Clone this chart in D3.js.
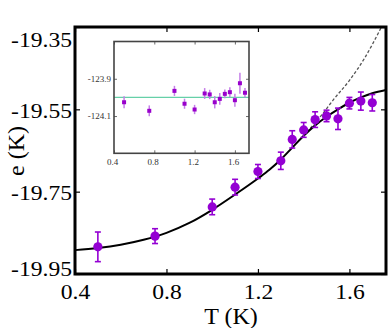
<!DOCTYPE html>
<html>
<head>
<meta charset="utf-8">
<script src="https://cdn.jsdelivr.net/npm/d3@7"></script>
<style>
  body { margin: 0; background: #fff; }
  text { font-family: "Liberation Serif", "Times New Roman", serif; }
</style>
</head>
<body>
<script>
// main panel data
var mainT   = [0.5, 0.75, 1.0, 1.1, 1.2, 1.3, 1.35, 1.4, 1.45, 1.5, 1.55, 1.6, 1.65, 1.7];
var mainE   = [-19.884, -19.858, -19.787, -19.739, -19.701, -19.675, -19.623, -19.600, -19.575, -19.566, -19.573, -19.535, -19.530, -19.534];
var mainErr = [0.036, 0.018, 0.019, 0.019, 0.017, 0.021, 0.021, 0.018, 0.019, 0.014, 0.026, 0.014, 0.022, 0.020];

// solid fit curve
var fitT = [0.4, 0.5, 0.6, 0.7, 0.8, 0.9, 1.0, 1.1, 1.2, 1.25, 1.3, 1.35, 1.4, 1.45, 1.5, 1.55, 1.6, 1.65, 1.7, 1.76];
var fitE = [-19.892, -19.887, -19.879, -19.867, -19.850, -19.826, -19.794, -19.757, -19.718, -19.697, -19.672, -19.643, -19.614, -19.589, -19.568, -19.550, -19.534, -19.521, -19.511, -19.503];

// dashed curve
var dashT = [1.40, 1.434, 1.48, 1.528, 1.601, 1.666, 1.74];
var dashE = [-19.614, -19.593, -19.563, -19.528, -19.479, -19.426, -19.35];

var xTicks = [0.4, 0.8, 1.2, 1.6];
var yTicks = [-19.95, -19.75, -19.55, -19.35];

// inset data
var insetT   = [0.5, 0.75, 1.0, 1.1, 1.2, 1.3, 1.35, 1.4, 1.45, 1.5, 1.55, 1.6, 1.65, 1.7];
var insetE   = [-124.026, -124.072, -123.965, -124.034, -124.065, -123.979, -123.984, -124.026, -124.008, -123.981, -123.972, -124.015, -123.924, -123.975];
var insetErr = [0.032, 0.029, 0.027, 0.027, 0.025, 0.029, 0.025, 0.033, 0.031, 0.023, 0.027, 0.035, 0.056, 0.025];
var insetRef = -124.0;
var insetYTicks = [-124.1, -123.9];

var width = 390, height = 328;
var plot = {left: 75, right: 386, top: 27, bottom: 274};

var svg = d3.select("body").append("svg")
            .attr("width", width)
            .attr("height", height);

var x = d3.scaleLinear().domain([0.4, 1.76]).range([plot.left, plot.right]);
var y = d3.scaleLinear().domain([-19.95, -19.35]).range([plot.bottom, plot.top]);

var purple = "#9400d3";

// axes, ticks pointing inward
function styleAxis(g) {
  g.select(".domain").remove();
  g.selectAll(".tick line").attr("stroke", "#000").attr("stroke-width", 1.2);
}

svg.append("g")
   .attr("transform", "translate(0," + plot.bottom + ")")
   .call(d3.axisBottom(x).tickValues(xTicks).tickSize(-5).tickPadding(10).tickFormat(d3.format(".1f")))
   .call(styleAxis)
   .selectAll("text")
   .attr("class", "tl")
   .attr("font-size", 20)
   .attr("fill", "#000")
   .attr("dy", "0.75em");

svg.append("g")
   .attr("transform", "translate(0," + plot.top + ")")
   .call(d3.axisTop(x).tickValues(xTicks).tickSize(-5).tickFormat(""))
   .call(styleAxis);

var yAxis = svg.append("g")
   .attr("transform", "translate(" + plot.left + ",0)")
   .call(d3.axisLeft(y).tickValues(yTicks).tickSize(-5).tickPadding(4).tickFormat(d3.format(".2f")))
   .call(styleAxis);

yAxis.selectAll("text")
   .attr("class", "tl")
   .attr("font-size", 20)
   .attr("fill", "#000")
   .attr("x", -3)
   .attr("dy", function(d) {
     if (d === -19.35) return "0.95em";
     if (d === -19.95) return "0.05em";
     return "0.4em";
   })
   .text(function(d) { return d3.format(".2f")(d).replace("−", "-"); });

svg.append("g")
   .attr("transform", "translate(" + plot.right + ",0)")
   .call(d3.axisRight(y).tickValues(yTicks).tickSize(-5).tickFormat(""))
   .call(styleAxis);

// fit curves
var line = d3.line()
             .x(function(d) { return x(d[0]); })
             .y(function(d) { return y(d[1]); })
             .curve(d3.curveMonotoneX);

svg.append("path")
   .datum(dashT.map(function(t, i) { return [t, dashE[i]]; }))
   .attr("d", line)
   .attr("fill", "none")
   .attr("stroke", "#555")
   .attr("stroke-width", 1.3)
   .attr("stroke-dasharray", "3,2");

svg.append("path")
   .datum(fitT.map(function(t, i) { return [t, fitE[i]]; }))
   .attr("d", line)
   .attr("fill", "none")
   .attr("stroke", "#000")
   .attr("stroke-width", 2);

// main data with error bars
var pts = svg.append("g").attr("class", "points")
             .selectAll("g")
             .data(mainT)
             .enter()
             .append("g");

pts.append("line")
   .attr("x1", function(d) { return x(d); })
   .attr("x2", function(d) { return x(d); })
   .attr("y1", function(d, i) { return y(mainE[i] - mainErr[i]); })
   .attr("y2", function(d, i) { return y(mainE[i] + mainErr[i]); })
   .attr("stroke", purple)
   .attr("stroke-width", 1.6);

[-1, 1].forEach(function(s) {
  pts.append("line")
     .attr("x1", function(d) { return x(d) - 3; })
     .attr("x2", function(d) { return x(d) + 3; })
     .attr("y1", function(d, i) { return y(mainE[i] + s * mainErr[i]); })
     .attr("y2", function(d, i) { return y(mainE[i] + s * mainErr[i]); })
     .attr("stroke", purple)
     .attr("stroke-width", 1.6);
});

pts.append("circle")
   .attr("cx", function(d) { return x(d); })
   .attr("cy", function(d, i) { return y(mainE[i]); })
   .attr("r", 4.6)
   .attr("fill", purple);

// frame
svg.append("rect")
   .attr("x", plot.left)
   .attr("y", plot.top)
   .attr("width", plot.right - plot.left)
   .attr("height", plot.bottom - plot.top)
   .attr("fill", "none")
   .attr("stroke", "#000")
   .attr("stroke-width", 3);

// axis titles
svg.append("text")
   .attr("x", 231)
   .attr("y", 324)
   .attr("text-anchor", "middle")
   .attr("font-size", 24)
   .text("T (K)");

svg.append("text")
   .attr("transform", "translate(24,151) rotate(-90)")
   .attr("text-anchor", "middle")
   .attr("font-size", 24)
   .text("e (K)");

// inset
var ins = {left: 114, right: 249, top: 41.5, bottom: 153.3};
var ix = d3.scaleLinear().domain([0.4, 1.74]).range([ins.left, ins.right]);
var iy = d3.scaleLinear().domain([-124.3, -123.7]).range([ins.bottom, ins.top]);

var inset = svg.append("g").attr("class", "inset");

inset.append("rect")
     .attr("x", ins.left)
     .attr("y", ins.top)
     .attr("width", ins.right - ins.left)
     .attr("height", ins.bottom - ins.top)
     .attr("fill", "#fff");

function styleInset(g) {
  g.select(".domain").remove();
  g.selectAll(".tick line").attr("stroke", "#444").attr("stroke-width", 0.8);
  g.selectAll("text").attr("font-size", 9).attr("fill", "#333");
}

inset.append("g")
     .attr("transform", "translate(0," + ins.bottom + ")")
     .call(d3.axisBottom(ix).tickValues(xTicks).tickSize(-3).tickPadding(5).tickFormat(d3.format(".1f")))
     .call(styleInset)
     .selectAll("text").attr("dx", "-0.2em");

inset.append("g")
     .attr("transform", "translate(0," + ins.top + ")")
     .call(d3.axisTop(ix).tickValues(xTicks).tickSize(-3).tickFormat(""))
     .call(styleInset);

inset.append("g")
     .attr("transform", "translate(" + ins.left + ",0)")
     .call(d3.axisLeft(iy).tickValues(insetYTicks).tickSize(-3).tickPadding(3)
              .tickFormat(function(d) { return d3.format(".1f")(d).replace("−", "-"); }))
     .call(styleInset);

inset.append("g")
     .attr("transform", "translate(" + ins.right + ",0)")
     .call(d3.axisRight(iy).tickValues(insetYTicks).tickSize(-3).tickFormat(""))
     .call(styleInset);

inset.append("line")
     .attr("x1", ins.left)
     .attr("x2", ins.right)
     .attr("y1", iy(insetRef))
     .attr("y2", iy(insetRef))
     .attr("stroke", "#66d0a8")
     .attr("stroke-width", 1.3);

var ipts = inset.append("g").selectAll("g")
                .data(insetT)
                .enter()
                .append("g");

ipts.append("line")
    .attr("x1", function(d) { return ix(d); })
    .attr("x2", function(d) { return ix(d); })
    .attr("y1", function(d, i) { return iy(insetE[i] - insetErr[i]); })
    .attr("y2", function(d, i) { return iy(insetE[i] + insetErr[i]); })
    .attr("stroke", "#c57ee8")
    .attr("stroke-width", 1.5);

ipts.append("rect")
    .attr("x", function(d) { return ix(d) - 2; })
    .attr("y", function(d, i) { return iy(insetE[i]) - 2; })
    .attr("width", 4)
    .attr("height", 4)
    .attr("fill", "#9900cc");

inset.append("rect")
     .attr("x", ins.left)
     .attr("y", ins.top)
     .attr("width", ins.right - ins.left)
     .attr("height", ins.bottom - ins.top)
     .attr("fill", "none")
     .attr("stroke", "#444")
     .attr("stroke-width", 1.6);

// the original tick labels are a bit wider than Times
svg.selectAll("text.tl").each(function() {
  var len = this.getComputedTextLength();
  d3.select(this).attr("textLength", len * 1.18).attr("lengthAdjust", "spacingAndGlyphs");
});
</script>
</body>
</html>
